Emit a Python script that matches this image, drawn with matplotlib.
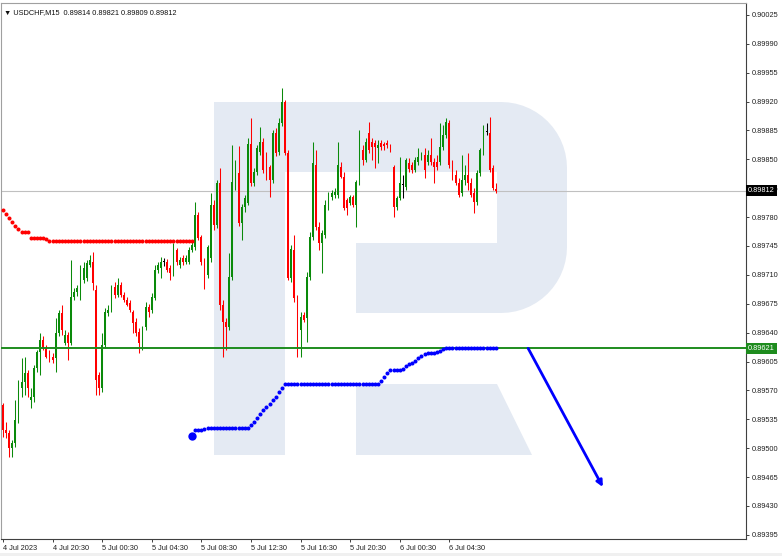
import numpy as np
import matplotlib.pyplot as plt
from matplotlib.patches import Polygon
from matplotlib.transforms import Affine2D, blended_transform_factory

plt.rcParams['font.family'] = ['Liberation Sans', 'DejaVu Sans']

# USDCHF M15 candles, prices in points (x 1e-5)
opens = [89552, 89522, 89518, 89500, 89506, 89534, 89573, 89580, 89591, 89558,
         89562, 89597, 89617, 89631, 89621, 89613, 89610, 89609, 89640, 89664,
         89627, 89637, 89627, 89683, 89689, 89692, 89704, 89706, 89722, 89726,
         89692, 89589, 89573, 89625, 89664, 89667, 89695, 89686, 89698, 89686,
         89680, 89676, 89665, 89653, 89641, 89627, 89647, 89671, 89667, 89682,
         89716, 89718, 89726, 89726, 89718, 89712, 89740, 89722, 89730, 89726,
         89726, 89740, 89744, 89783, 89756, 89726, 89710, 89730, 89795, 89770,
         89821, 89673, 89653, 89647, 89707, 89823, 89833, 89773, 89792, 89797,
         89869, 89821, 89835, 89859, 89871, 89854, 89841, 89825, 89882, 89859,
         89894, 89919, 89858, 89706, 89740, 89682, 89643, 89661, 89658, 89707,
         89756, 89843, 89768, 89749, 89758, 89795, 89804, 89807, 89807, 89841,
         89829, 89801, 89797, 89804, 89795, 89823, 89861, 89849, 89882, 89871,
         89870, 89864, 89870, 89869, 89870, 89866, 89841, 89792, 89803, 89819,
         89816, 89846, 89843, 89837, 89847, 89852, 89855, 89847, 89855, 89847,
         89847, 89847, 89865, 89879, 89894, 89843, 89831, 89821, 89809, 89825,
         89831, 89821, 89809, 89798, 89833, 89859, 89883, 89882, 89840, 89814]
highs = [89555, 89532, 89522, 89510, 89558, 89583, 89609, 89610, 89595, 89573,
         89601, 89619, 89640, 89636, 89625, 89619, 89615, 89658, 89667, 89673,
         89643, 89641, 89728, 89694, 89698, 89722, 89726, 89728, 89734, 89738,
         89698, 89592, 89640, 89670, 89673, 89698, 89701, 89706, 89701, 89689,
         89683, 89680, 89667, 89658, 89646, 89648, 89677, 89675, 89688, 89722,
         89726, 89732, 89730, 89729, 89722, 89749, 89743, 89732, 89734, 89734,
         89744, 89752, 89798, 89786, 89758, 89730, 89746, 89809, 89801, 89825,
         89840, 89680, 89658, 89737, 89867, 89849, 89866, 89796, 89807, 89876,
         89900, 89840, 89867, 89889, 89876, 89859, 89843, 89886, 89888, 89900,
         89936, 89922, 89861, 89746, 89758, 89686, 89665, 89665, 89713, 89762,
         89871, 89861, 89774, 89764, 89801, 89810, 89813, 89815, 89871, 89847,
         89835, 89803, 89807, 89807, 89825, 89886, 89867, 89876, 89895, 89876,
         89873, 89873, 89873, 89871, 89873, 89869, 89843, 89806, 89853, 89831,
         89852, 89852, 89847, 89853, 89864, 89859, 89864, 89861, 89876, 89852,
         89855, 89894, 89892, 89900, 89898, 89849, 89837, 89827, 89855, 89843,
         89858, 89827, 89815, 89837, 89864, 89892, 89894, 89901, 89843, 89821]
lows = [89514, 89512, 89489, 89489, 89501, 89530, 89562, 89564, 89562, 89549,
        89556, 89592, 89589, 89619, 89609, 89604, 89603, 89592, 89636, 89637,
        89625, 89607, 89625, 89680, 89684, 89680, 89700, 89703, 89720, 89692,
        89564, 89564, 89568, 89621, 89660, 89665, 89682, 89683, 89683, 89677,
        89672, 89665, 89640, 89636, 89615, 89619, 89643, 89659, 89664, 89680,
        89712, 89706, 89721, 89713, 89704, 89709, 89722, 89718, 89722, 89723,
        89723, 89738, 89740, 89752, 89722, 89693, 89706, 89726, 89764, 89767,
        89667, 89610, 89619, 89643, 89704, 89813, 89769, 89752, 89786, 89795,
        89818, 89818, 89831, 89855, 89833, 89825, 89804, 89821, 89854, 89855,
        89890, 89855, 89704, 89701, 89677, 89610, 89610, 89653, 89629, 89704,
        89752, 89764, 89740, 89712, 89755, 89789, 89801, 89803, 89803, 89827,
        89789, 89783, 89795, 89792, 89768, 89819, 89843, 89847, 89858, 89849,
        89840, 89846, 89861, 89861, 89864, 89859, 89780, 89789, 89801, 89803,
        89813, 89835, 89833, 89835, 89843, 89849, 89827, 89843, 89843, 89821,
        89837, 89843, 89861, 89876, 89840, 89825, 89819, 89804, 89806, 89819,
        89813, 89804, 89785, 89795, 89830, 89855, 89879, 89835, 89813, 89809]
closes = [89522, 89518, 89500, 89506, 89534, 89573, 89580, 89591, 89573, 89562,
          89597, 89617, 89631, 89621, 89610, 89607, 89607, 89640, 89664, 89643,
          89637, 89627, 89683, 89689, 89694, 89718, 89718, 89724, 89728, 89700,
          89583, 89573, 89625, 89665, 89667, 89694, 89686, 89698, 89686, 89680,
          89673, 89667, 89652, 89640, 89627, 89646, 89671, 89665, 89683, 89716,
          89722, 89726, 89726, 89716, 89712, 89740, 89726, 89728, 89726, 89730,
          89740, 89746, 89783, 89755, 89726, 89710, 89744, 89795, 89770, 89821,
          89673, 89653, 89647, 89707, 89823, 89832, 89773, 89792, 89803, 89869,
          89821, 89835, 89864, 89871, 89837, 89827, 89825, 89882, 89858, 89894,
          89919, 89858, 89706, 89741, 89682, 89643, 89659, 89655, 89707, 89756,
          89846, 89768, 89749, 89761, 89795, 89807, 89809, 89810, 89843, 89829,
          89791, 89791, 89804, 89795, 89823, 89861, 89849, 89871, 89861, 89865,
          89865, 89867, 89865, 89866, 89867, 89864, 89792, 89803, 89821, 89819,
          89849, 89838, 89837, 89849, 89853, 89855, 89837, 89855, 89847, 89841,
          89841, 89865, 89879, 89895, 89843, 89829, 89821, 89807, 89825, 89831,
          89821, 89807, 89798, 89833, 89861, 89883, 89883, 89837, 89815, 89812]

# red dotted indicator, bars 0..61
red_line = [89789, 89784, 89779, 89774, 89769, 89766, 89762, 89762, 89762, 89755,
            89755, 89755, 89755, 89755, 89753, 89751, 89751, 89751, 89751, 89751,
            89751, 89751, 89751, 89751, 89751, 89751, 89751, 89751, 89751, 89751,
            89751, 89751, 89751, 89751, 89751, 89751, 89751, 89751, 89751, 89751,
            89751, 89751, 89751, 89751, 89751, 89751, 89751, 89751, 89751, 89751,
            89751, 89751, 89751, 89751, 89751, 89751, 89751, 89751, 89751, 89751,
            89751, 89751]
# blue dotted indicator, bars 61..159
blue_start = 61
blue_line = [89515, 89522, 89522, 89522, 89523, 89524, 89524, 89524, 89524, 89524,
             89524, 89524, 89524, 89524, 89524, 89524, 89524, 89524, 89524, 89528,
             89532, 89537, 89541, 89546, 89550, 89554, 89558, 89562, 89568, 89573,
             89578, 89578, 89578, 89578, 89578, 89578, 89578, 89578, 89578, 89578,
             89578, 89578, 89578, 89578, 89578, 89578, 89578, 89578, 89578, 89578,
             89578, 89578, 89578, 89578, 89578, 89578, 89578, 89578, 89578, 89578,
             89578, 89581, 89586, 89591, 89595, 89595, 89595, 89595, 89596, 89600,
             89602, 89603, 89606, 89609, 89612, 89614, 89615, 89615, 89615, 89617,
             89618, 89620, 89622, 89622, 89622, 89622, 89622, 89622, 89622, 89622,
             89622, 89622, 89622, 89622, 89622, 89622, 89622, 89622, 89622]

current_price = 0.89812
level_price = 0.89621
arrow_from = (169.4, 0.89621)
arrow_to = (193.5, 0.89453)

price_ticks = [0.90025, 0.89990, 0.89955, 0.89920, 0.89885, 0.89850, 0.89815,
               0.89780, 0.89745, 0.89710, 0.89675, 0.89640, 0.89605, 0.89570,
               0.89535, 0.89500, 0.89465, 0.89430, 0.89395]
time_ticks = [0, 16, 32, 48, 64, 80, 96, 112, 128, 144]
time_labels = ['4 Jul 2023', '4 Jul 20:30', '5 Jul 00:30', '5 Jul 04:30', '5 Jul 08:30',
               '5 Jul 12:30', '5 Jul 16:30', '5 Jul 20:30', '6 Jul 00:30', '6 Jul 04:30']

o = np.array(opens) / 1e5
h = np.array(highs) / 1e5
l = np.array(lows) / 1e5
c = np.array(closes) / 1e5
idx = np.arange(len(o))

fig = plt.figure(figsize=(7.82, 5.56), dpi=100)
ax = fig.add_axes([1 / 782, 17 / 556, 745 / 782, 536 / 556])
ax.set_xlim(-0.645, 239.68)
ax.set_ylim(0.89390, 0.900394)

# watermark logo drawn in pixel coordinates
px = Affine2D().scale(1 / 782, -1 / 556).translate(0, 1) + fig.transFigure
r = 66
t = np.linspace(np.pi / 2, 0, 15)
top_arc = list(zip(501 + r * np.cos(t), 168 - r * np.sin(t)))
t = np.linspace(0, -np.pi / 2, 15)
bot_arc = list(zip(501 + r * np.cos(t), 247 - r * np.sin(t)))
body = [(214, 102)] + top_arc + bot_arc + [(356, 313), (356, 243), (497, 243),
                                          (497, 172), (285, 172), (285, 455), (214, 455)]
wm = '#e4eaf3'
ax.add_patch(Polygon(body, closed=True, transform=px, facecolor=wm, edgecolor='none', zorder=0))
ax.add_patch(Polygon([(356, 384), (497, 384), (532, 455), (356, 455)], closed=True,
                     transform=px, facecolor=wm, edgecolor='none', zorder=0))

# level lines
ax.axhline(current_price, color='#c0c0c0', lw=0.8, zorder=1)
ax.axhline(level_price, color='#1e8c1e', lw=1.4, zorder=5)

# candles
green, red = '#0a8a0a', '#ff0000'
cols = np.where(c > o, green, np.where(c < o, red, '#000000'))
ax.vlines(idx, l, h, colors=cols, lw=0.75, zorder=3)
heights = np.maximum(np.abs(c - o), 0.000012)
ax.bar(idx, heights, bottom=np.minimum(o, c), width=0.62, color=cols, linewidth=0, zorder=4)

# indicators
ax.plot(np.arange(len(red_line)), np.array(red_line) / 1e5, 'o', color='#ff0000',
        markersize=2.9, markeredgewidth=0, zorder=6)
bx = np.arange(blue_start, blue_start + len(blue_line))
ax.plot(bx, np.array(blue_line) / 1e5, 'o', color='#0000ff',
        markersize=2.9, markeredgewidth=0, zorder=6)
ax.plot(bx[0], blue_line[0] / 1e5, 'o', color='#0000ff', markersize=6, markeredgewidth=0, zorder=6)

# forecast arrow
ax.annotate('', xy=arrow_to, xytext=arrow_from,
            arrowprops=dict(arrowstyle='-|>', color='#0000ff', lw=2, mutation_scale=9,
                            shrinkA=0, shrinkB=0), zorder=7)

# axes styling
for s in ['top', 'left']:
    ax.spines[s].set_color('#a0a0a0')
for s in ['right', 'bottom']:
    ax.spines[s].set_color('#404040')
for s in ax.spines.values():
    s.set_linewidth(0.8)

ax.yaxis.tick_right()
ax.set_yticks(price_ticks)
ax.set_yticklabels([f'{p:.5f}' for p in price_ticks])
ax.tick_params(axis='y', direction='out', length=2.5, width=0.6, pad=1.5,
               labelsize=5.3, colors='#202020')
ax.set_xticks(time_ticks)
ax.set_xticklabels(time_labels, ha='left')
ax.tick_params(axis='x', direction='out', length=2.5, width=0.6, pad=2,
               labelsize=5.3, colors='#202020')

# price tags on the axis
bt = blended_transform_factory(ax.transAxes, ax.transData)
ax.text(1.003, current_price, f'{current_price:.5f}', transform=bt, ha='left', va='center',
        fontsize=5.3, color='white', zorder=10, clip_on=False,
        bbox=dict(boxstyle='square,pad=0.25', facecolor='#000000', edgecolor='none'))
ax.text(1.003, level_price, f'{level_price:.5f}', transform=bt, ha='left', va='center',
        fontsize=5.3, color='white', zorder=10, clip_on=False,
        bbox=dict(boxstyle='square,pad=0.25', facecolor='#1e8c1e', edgecolor='none'))

# header
ax.text(0.004, 0.988, '\u25bc USDCHF,M15  0.89814 0.89821 0.89809 0.89812', transform=ax.transAxes,
        ha='left', va='top', fontsize=5.3, color='#101010', zorder=10)

fig.patches.append(plt.Rectangle((0, 0), 1, 3 / 556, transform=fig.transFigure,
                                 facecolor='#f0f0f0', edgecolor='none'))

fig.savefig('out.png', dpi=100)
